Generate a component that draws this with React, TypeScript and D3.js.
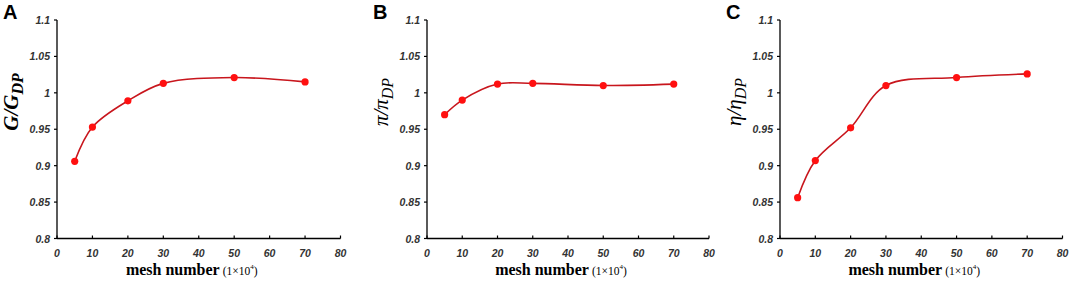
import * as d3 from "d3";

// shared x values (mesh number, x10^4)
const meshNumbers = [5, 10, 20, 30, 50, 70];

// normalised values
const gRatio = [0.906, 0.953, 0.989, 1.013, 1.021, 1.015];
const piRatio = [0.97, 0.99, 1.012, 1.013, 1.01, 1.012];
const etaRatio = [0.856, 0.907, 0.952, 1.01, 1.021, 1.026];

const xTicks = [0, 10, 20, 30, 40, 50, 60, 70, 80];
const yTicks = [0.8, 0.85, 0.9, 0.95, 1, 1.05, 1.1];
const yTickLabels = ["0.8", "0.85", "0.9", "0.95", "1", "1.05", "1.1"];

const panelLetters = ["A", "B", "C"];
const ySymbols = ["G", "\u03c0", "\u03b7"];

const panels = [
  { left: 57, right: 340.5, values: gRatio },
  { left: 427, right: 709, values: piRatio },
  { left: 780, right: 1062.5, values: etaRatio },
];

const top = 20;
const bottom = 238.5;
const lineColor = "#c8161d";
const dotColor = "#ff1010";

const Panel = ({ idx }: { idx: number }) => {
  const p = panels[idx];
  const x = d3.scaleLinear().domain([0, 80]).range([p.left, p.right]);
  const y = d3.scaleLinear().domain([0.8, 1.1]).range([bottom, top]);

  const line = d3
    .line<number>()
    .x((d, i) => x(meshNumbers[i]))
    .y((d) => y(d))
    .curve(d3.curveCatmullRom.alpha(0.5));

  const sym = ySymbols[idx];
  const cx = (p.left + p.right) / 2 - 7;

  return (
    <g>
      <text
        x={p.left - 54}
        y={19}
        fontFamily="Liberation Sans, Arial, sans-serif"
        fontWeight="bold"
        fontSize={20}
      >
        {panelLetters[idx]}
      </text>

      {/* y axis */}
      <line x1={p.left} x2={p.left} y1={top} y2={bottom} stroke="#000" strokeWidth={1.3} />
      {yTicks.map((t, i) => (
        <g key={t}>
          <line x1={p.left - 3} x2={p.left} y1={y(t)} y2={y(t)} stroke="#000" strokeWidth={1.2} />
          <text
            x={p.left - 7}
            y={y(t) + 4}
            textAnchor="end"
            fontFamily="Liberation Sans, Arial, sans-serif"
            fontStyle="italic"
            fontWeight="bold"
            fontSize={10.5}
            fill="#333"
          >
            {yTickLabels[i]}
          </text>
        </g>
      ))}

      {/* x axis */}
      <line x1={p.left} x2={p.right} y1={bottom} y2={bottom} stroke="#000" strokeWidth={1.3} />
      {xTicks.map((t) => (
        <g key={t}>
          <line x1={x(t)} x2={x(t)} y1={bottom - 3} y2={bottom} stroke="#000" strokeWidth={1.2} />
          <text
            x={x(t)}
            y={257}
            textAnchor="middle"
            fontFamily="Liberation Sans, Arial, sans-serif"
            fontStyle="italic"
            fontWeight="bold"
            fontSize={10.5}
            fill="#333"
          >
            {t}
          </text>
        </g>
      ))}

      <text x={cx} y={275} textAnchor="middle" fontFamily="Liberation Serif, Times New Roman, serif">
        <tspan fontWeight="bold" fontSize={16}>mesh number</tspan>
        <tspan fontSize={11.5} dx={3}>(1×10</tspan>
        <tspan fontSize={7} dy={-6}>4</tspan>
        <tspan fontSize={11.5} dy={6}>)</tspan>
      </text>

      <text
        transform={`translate(${p.left - 39},${102}) rotate(-90)`}
        textAnchor="middle"
        fontFamily="Liberation Serif, Times New Roman, serif"
        fontStyle="italic"
        fontWeight={idx === 0 ? "bold" : "normal"}
        fontSize={21}
      >
        <tspan>{sym}/{sym}</tspan>
        <tspan fontSize={16} dy={5}>DP</tspan>
      </text>

      <path d={line(p.values) || ""} fill="none" stroke={lineColor} strokeWidth={1.6} />
      {p.values.map((v, i) => (
        <circle key={i} cx={x(meshNumbers[i])} cy={y(v)} r={3.6} fill={dotColor} />
      ))}
    </g>
  );
};

export default function App() {
  return (
    <svg
      width={1072}
      height={281}
      style={{ position: "absolute", left: 0, top: 0, background: "#fff" }}
    >
      {panels.map((_, i) => (
        <Panel key={i} idx={i} />
      ))}
    </svg>
  );
}
